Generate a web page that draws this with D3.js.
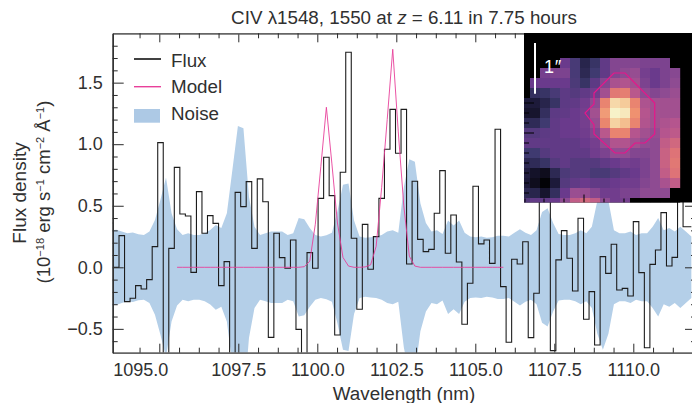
<!DOCTYPE html>
<html><head><meta charset="utf-8">
<script src="https://cdn.jsdelivr.net/npm/d3@7"></script>
<style>
html,body{margin:0;padding:0;background:#fff}
svg{display:block}
text{font-family:"Liberation Sans",Arial,sans-serif;fill:#303030}
</style></head><body><svg id="c" width="692" height="403"></svg>
<script>
const fluxValues=[0.36,0.00,0.257,-0.279,-0.252,-0.149,-0.176,-0.10,0.168,1.013,-0.80,0.154,0.812,0.433,0.417,-0.041,0.615,0.276,0.42,0.357,-0.149,0.046,-0.85,0.609,0.493,0.696,0.154,0.718,0.533,-0.569,0.276,0.079,-0.008,0.222,-0.504,-0.80,0.119,-0.008,0.56,0.894,0.582,-0.55,0.772,1.747,0.236,-0.341,0.349,-0.016,0.249,0.56,0.959,1.283,0.926,1.283,0.027,0.699,0.227,0.127,0.146,0.439,0.785,0.114,0.425,0.043,-0.463,-0.13,0.658,0.19,0.222,0.032,1.121,-0.157,-0.609,0.065,0.027,0.208,-0.571,-0.211,1.15,1.05,-0.677,0.06,0.298,0.073,-0.192,0.398,-0.422,-0.198,-0.631,0.087,-0.049,0.187,-0.184,-0.171,-0.233,0.371,-0.043,-0.653,0.024,0.141,0.444,0.011,0.081,1.0,0.33,0.33];
const noiseValues=[.30,.306,.29,.276,.282,.268,.263,.29,.385,.55,.73,.44,.31,.263,.276,.263,.263,.276,.303,.344,.32,.44,.79,1.148,1.13,.574,.33,.263,.276,.29,.29,.29,.263,.276,.40,.39,.32,.263,.25,.26,.28,.455,.67,.68,.38,.25,.24,.245,.25,.263,.29,.30,.28,.65,.877,.858,.52,.36,.29,.30,.27,.38,.34,.38,.28,.25,.245,.25,.24,.245,.257,.257,.25,.28,.31,.28,.263,.30,.45,.48,.36,.27,.263,.263,.276,.30,.276,.33,.54,.67,.54,.30,.276,.276,.29,.263,.276,.276,.33,.40,.30,.32,.29,.33,.29,.25];
const modelStartBin=12;
const modelValues=[0,0,0,0,0,0,0,0,0,0,0,0,0,0,0,0,0,0,0,0,0,0,0,.005,.05,.35,.82,1.30,.84,.36,.08,.01,0,0,.003,.02,.17,.65,1.2,1.771,1.1,.50,.09,.01,0,0,0,0,0,0,0,0,0,0,0,0,0,0,0,0];
const xMajorTicks=[1095,1097.5,1100,1102.5,1105,1107.5,1110];
const xMinorTicks=[1094.375,1095.625,1096.25,1096.875,1098.125,1098.75,1099.375,1100.625,1101.25,1101.875,1103.125,1103.75,1104.375,1105.625,1106.25,1106.875,1108.125,1108.75,1109.375,1110.625,1111.25,1111.875];
const yMajorTicks=[-0.5,0,0.5,1,1.5];
const yMinorTicks=[-0.6,-0.4,-0.3,-0.2,-0.1,0.1,0.2,0.3,0.4,0.6,0.7,0.8,0.9,1.1,1.2,1.3,1.4,1.6,1.7,1.8];
const binStart=1093.375, binWidth=0.175;
const insetCells=[
[0,0,0,0,.35,.27,.15,.22,.33,.42,.42,.42,.4,.4,.4,0],
[0,0,.38,.40,.40,.27,.17,.25,.33,.42,.45,.47,.38,.35,.40,.43],
[0,.35,.35,.35,.35,.28,.22,.32,.42,.52,.54,.5,.4,.35,.4,.45],
[0,.2,.22,.27,.32,.3,.33,.37,.5,.68,.7,.56,.45,.42,.45,.48],
[.1,.1,.15,.22,.32,.33,.37,.45,.72,.92,.88,.72,.53,.5,.5,.5],
[.08,.08,.2,.32,.33,.35,.38,.5,.78,1,.97,.76,.55,.5,.5,.5],
[.18,.18,.25,.33,.35,.35,.38,.47,.73,.9,.85,.72,.54,.5,.53,.55],
[.3,.3,.32,.33,.35,.35,.37,.42,.56,.72,.72,.55,.5,.47,.55,.57],
[.33,.33,.33,.33,.33,.33,.35,.38,.46,.54,.54,.5,.46,.45,.58,.62],
[.25,.25,.3,.33,.33,.33,.33,.37,.4,.46,.46,.42,.42,.45,.6,.66],
[.17,.18,.22,.3,.33,.3,.3,.3,.33,.35,.38,.37,.4,.45,.6,.68],
[.12,.07,.05,.17,.28,.3,.3,.27,.27,.3,.33,.35,.4,.45,.58,.66],
[.1,.05,.01,.1,.3,.33,.35,.33,.33,.35,.37,.37,.42,.45,.52,.58],
[.17,.15,.08,.2,.35,.48,.47,.42,.37,.37,.4,.4,.45,.45,.45,0],
[.3,.33,.33,.35,.45,.58,.62,.58,.45,.37,.38,0,0,0,0,0]];
const contourCols=[9.4,10.5,13.47,13.47,12.5,11.5,10.5,9.5,7.4,7.4,6.5,7.4,7.4,9.4];
const contourRows=[1.5,1.5,4.5,7.6,8.5,8.5,9.5,9.5,7.6,6.67,5.5,4.6,3.5,1.5];
const insetBottomTicks=[0.5,2.4,4.4,6.4,8.4,10.4];
const insetLeftTicks=[4.5,5.5,6.5,7.5,8.5,9.5,10.5,11.5,12.5,13.5];
const legendLabels=["Flux","Model","Noise"];

const L=112.7,T=33.3,B=352.7,R=696;
const x=d3.scaleLinear().domain([1100+(L-317.3)/31.6,1100+(R-317.3)/31.6]).range([L,R]);
const y=d3.scaleLinear().domain([(267.3-B)/123.1,(267.3-T)/123.1]).range([B,T]);
const svg=d3.select("#c");
const defs=svg.append("defs");
defs.append("clipPath").attr("id","pc").append("rect").attr("x",L).attr("y",T).attr("width",R-L).attr("height",B-T);
defs.append("clipPath").attr("id","ic").append("rect").attr("x",524).attr("y",33).attr("width",168).attr("height",169.5);

const centres=fluxValues.map((_,i)=>binStart+(i+0.5)*binWidth);
const plot=svg.append("g").attr("clip-path","url(#pc)");
plot.append("path").attr("fill","#b4cfe8")
 .attr("d",d3.area().x((d,i)=>x(centres[i])).y0(d=>y(-d)).y1(d=>y(d))(noiseValues));
plot.append("path").attr("fill","none").attr("stroke","#1c1c1c").attr("stroke-width",1.1)
 .attr("d",d3.line().curve(d3.curveStep).x((d,i)=>x(centres[i])).y(d=>y(d))(fluxValues));
plot.append("path").attr("fill","none").attr("stroke","#e8409a").attr("stroke-width",0.9)
 .attr("d",d3.line().x((d,i)=>x(centres[i+modelStartBin])).y(d=>y(d))(modelValues));

function axes(){
 const g=svg.append("g");
 const mk=(axis,tr,major)=>{
  const a=g.append("g").attr("transform",tr).call(axis);
  a.select(".domain").attr("stroke",major).attr("stroke-width",1.4);
  a.selectAll(".tick line").attr("stroke","#2a2a2a").attr("stroke-width",1);
  return a;};
 const none=()=>"";
 const bm=mk(d3.axisBottom(x).tickValues(xMajorTicks).tickSize(-9).tickSizeOuter(0).tickFormat(d3.format(".1f")).tickPadding(10.5),`translate(0,${B})`,"#666");
 mk(d3.axisBottom(x).tickValues(xMinorTicks).tickSize(-5).tickSizeOuter(0).tickFormat(none),`translate(0,${B})`,"#666");
 mk(d3.axisTop(x).tickValues(xMajorTicks).tickSize(-9).tickSizeOuter(0).tickFormat(none),`translate(0,${T})`,"#666");
 mk(d3.axisTop(x).tickValues(xMinorTicks).tickSize(-5).tickSizeOuter(0).tickFormat(none),`translate(0,${T})`,"#666");
 const lm=mk(d3.axisLeft(y).tickValues(yMajorTicks).tickSize(-11).tickSizeOuter(0).tickFormat(d=>d3.format(".1f")(d).replace("-","\u2212")).tickPadding(10),`translate(${L},0)`,"#333");
 mk(d3.axisLeft(y).tickValues(yMinorTicks).tickSize(-5).tickSizeOuter(0).tickFormat(none),`translate(${L},0)`,"#333");
 mk(d3.axisRight(y).tickValues(yMajorTicks).tickSize(-11).tickSizeOuter(0).tickFormat(none),`translate(${R},0)`,"#333");
 mk(d3.axisRight(y).tickValues(yMinorTicks).tickSize(-5).tickSizeOuter(0).tickFormat(none),`translate(${R},0)`,"#333");
 bm.selectAll("text").style("font-size","18px").attr("dx",d=>d===1095?-19:0);
 lm.selectAll("text").style("font-size","18px");
}
axes();

// inset
const inset=svg.append("g").attr("clip-path","url(#ic)");
inset.append("rect").attr("x",524).attr("y",33).attr("width",168).attr("height",170).attr("fill","#000");
const ix=d3.scaleLinear().domain([0,18]).range([520,700]);
const iy=d3.scaleLinear().domain([0,15]).range([58,208]);
const color=d3.scaleLinear()
 .domain([0,.1,.25,.35,.45,.55,.65,.75,.87,1])
 .range(["#000000","#1d1a3a","#3f3a70","#6a3a8c","#8e4b92","#b5558e","#dc7078","#ee8c6c","#f5c896","#f7f2c8"]);
insetCells.forEach((row,r)=>row.forEach((v,c)=>{
 inset.append("rect").attr("x",ix(c)).attr("y",iy(r)).attr("width",ix(c+1)-ix(c)+0.2).attr("height",iy(r+1)-iy(r)+0.2).attr("fill",color(v));
}));
inset.append("path").attr("fill","none").attr("stroke","#e6178a").attr("stroke-width",1.2)
 .attr("d",d3.line().x(d=>ix(d)).y((d,i)=>iy(contourRows[i]))(contourCols));
inset.selectAll("line.b").data(insetBottomTicks).join("line").attr("x1",d=>ix(d)).attr("x2",d=>ix(d))
 .attr("y1",d=>202.5-(d===6.4?8:4)).attr("y2",202.5).attr("stroke","#000");
inset.selectAll("line.l").data(insetLeftTicks).join("line").attr("y1",d=>iy(d)).attr("y2",d=>iy(d))
 .attr("x1",524).attr("x2",d=>524+(d===7.5||d===4.5?10:5)).attr("stroke","#000");
svg.append("line").attr("x1",535).attr("x2",535).attr("y1",43).attr("y2",93.7).attr("stroke","#fff").attr("stroke-width",2);
const scaleLabel=svg.append("text").attr("x",544).attr("y",73).style("font-size","18px").style("fill","#fff");
scaleLabel.append("tspan").style("fill","#fff").text("1");
scaleLabel.append("tspan").style("fill","#fff").style("font-style","italic").text("\u2033");

// legend
const legendY=[59,86.7];
svg.append("line").attr("x1",134).attr("x2",161).attr("y1",legendY[0]).attr("y2",legendY[0]).attr("stroke","#111").attr("stroke-width",1.6);
svg.append("line").attr("x1",134).attr("x2",161).attr("y1",legendY[1]).attr("y2",legendY[1]).attr("stroke","#e8409a").attr("stroke-width",1.4);
svg.append("rect").attr("x",134).attr("y",109).attr("width",26).attr("height",13.7).attr("fill","#adc9e5");
legendLabels.forEach((t,i)=>svg.append("text").attr("x",171).attr("y",[66.5,93,120][i]).style("font-size","18.8px").text(t));

// titles
const title=svg.append("text").attr("x",404).attr("y",23.5).attr("text-anchor","middle").style("font-size","18.8px");
title.append("tspan").text("CIV \u03BB1548, 1550 at ");
title.append("tspan").style("font-style","italic").text("z");
title.append("tspan").text(" = 6.11 in 7.75 hours");
svg.append("text").attr("x",404).attr("y",400).attr("text-anchor","middle").style("font-size","18.8px").text("Wavelength (nm)");
svg.append("text").attr("transform","translate(25.5,193) rotate(-90)").attr("text-anchor","middle").style("font-size","19px").text("Flux density");
const yl=svg.append("text").attr("transform","translate(50,192) rotate(-90)").attr("text-anchor","middle").style("font-size","18.5px");
const parts=[["(10",0],["\u221218",1],[" erg s",0],["\u22121",1],[" cm",0],["\u22122",1],[" \u00C5",0],["\u22121",1],[")",0]];
parts.forEach(([t,s],i)=>{
 const ts=yl.append("tspan").text(t);
 if(s){ts.style("font-size","11px").attr("dy",-6);}
 else if(i>0){ts.attr("dy",6);}
});
</script></body></html>
